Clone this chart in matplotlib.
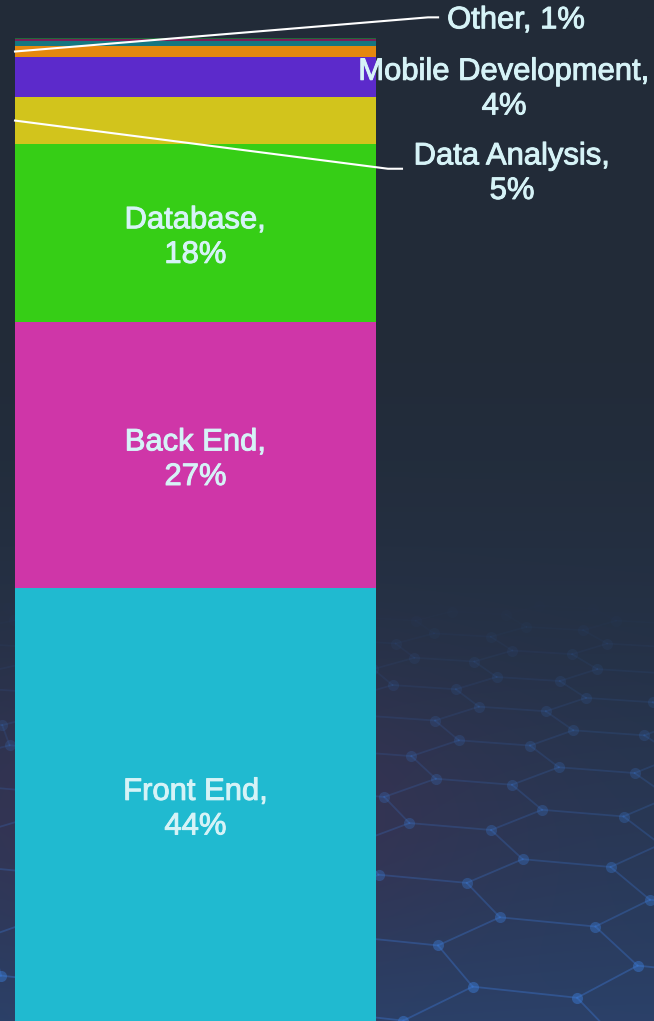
import numpy as np
import matplotlib.pyplot as plt
import matplotlib.patheffects as pe
from matplotlib.colors import to_rgb

# ==== data: share of respondents by skill area (percent), bottom to top
areas = ['Front End', 'Back End', 'Database', 'Data Analysis',
         'Mobile Development', 'Other', 'DevOps', 'Testing', 'Security']
shares = [44.0, 27.1, 18.1, 4.8, 4.05, 1.15, 0.45, 0.22, 0.13]
colors = ['#20BAD0', '#CF36A8', '#36CE16', '#D2C41C',
          '#5C2ACB', '#E5880E', '#167680', '#7A1F5A', '#1F6B3A']

# labels drawn inside the bar vs. pulled out to the right
inside = ['Front End', 'Back End', 'Database']
outside = {  # name -> (text x in axes fraction, text y, leader y, leader kink x, leader end x)
    'Data Analysis': (1.377, 86.2, 86.7, 1.033, 1.072),
    'Mobile Development': (1.355, 94.8, None, None, None),
    'Other': (1.197, 101.8, 102.1, 1.144, 1.172),
}

W, H = 654, 1021
TXT = '#D6F3F7'
FS = 22.3
plt.rcParams['font.family'] = ['Liberation Sans', 'DejaVu Sans']
heavier = [pe.withStroke(linewidth=0.7, foreground=TXT)]

fig = plt.figure(figsize=(W / 100, H / 100), dpi=100)

# ==== background: dark navy gradient with a faint hex network at the bottom
bg = fig.add_axes([0, 0, 1, 1], zorder=0)
yy, xx = np.mgrid[0:H, 0:W]
t = np.clip((yy - 300) / (H - 300), 0, 1) ** 1.6
top = np.array(to_rgb('#222B38'))
bot = np.array(to_rgb('#2B4169'))
img = top[None, None, :] * (1 - t[..., None]) + bot[None, None, :] * t[..., None]
purple = np.array(to_rgb('#3E3152'))
blob = np.exp(-(((xx - 200) / 280.0) ** 2 + ((yy - 810) / 140.0) ** 2))
img = img * (1 - 0.8 * blob[..., None]) + purple * 0.8 * blob[..., None]
bg.imshow(img, extent=(0, W, H, 0), aspect='auto', interpolation='bilinear')

# hexagon lattice laid on a tilted ground plane, seen in perspective
F, CAM_H, Y0 = 1810.0, 1.36, 200.0
def project(u, w):
    ang = np.deg2rad(-14)
    ur = u * np.cos(ang) - (w - 4) * np.sin(ang)
    wr = u * np.sin(ang) + (w - 4) * np.cos(ang) + 4
    return 330 + F * ur / wr, Y0 + F * CAM_H / wr, wr

edges = set()
s = 0.18
for i in range(-16, 16):
    for j in range(0, 28):
        cu = i * 1.5 * s
        cw = 1.5 + j * np.sqrt(3) * s + (i % 2) * np.sqrt(3) / 2 * s
        vs = [(round(cu + s * np.cos(np.pi / 3 * k), 4),
               round(cw + s * np.sin(np.pi / 3 * k), 4)) for k in range(6)]
        for k in range(6):
            a, b = vs[k], vs[(k + 1) % 6]
            edges.add((min(a, b), max(a, b)))

def fade(y):
    return min(1.0, max(0.0, (y - 600) / 380))

nodes = set()
for a, b in edges:
    x1, y1, d1 = project(*a)
    x2, y2, d2 = project(*b)
    if min(d1, d2) < 1.5:
        continue
    ym = (y1 + y2) / 2
    if ym < 600 or ym > H + 80 or max(x1, x2) < -80 or min(x1, x2) > W + 80:
        continue
    bg.plot([x1, x2], [y1, y2], color='#3A6FC4', lw=1.3, alpha=fade(ym) * 0.45)
    nodes.add((round(x1, 1), round(y1, 1)))
    nodes.add((round(x2, 1), round(y2, 1)))
for x, y in nodes:
    if 600 < y < H + 20:
        bg.plot(x, y, 'o', ms=8, color='#3A78D0', alpha=fade(y) * 0.5, mec='none')
bg.set_xlim(0, W)
bg.set_ylim(H, 0)
bg.axis('off')

# ==== stacked bar
ax = fig.add_axes([15 / W, 0, (376 - 15) / W, (H - 38) / H], zorder=1)
ax.patch.set_alpha(0)
bottoms = np.concatenate([[0], np.cumsum(shares)[:-1]])
ax.bar(0, shares, bottom=bottoms, width=1.0, color=colors, linewidth=0)
ax.set_xlim(-0.5, 0.5)
ax.set_ylim(0, sum(shares))
ax.axis('off')

for name, val, b in zip(areas, shares, bottoms):
    mid = b + val / 2
    if name in inside:
        ax.text(0, mid - 0.45, f'{name},\n{round(val)}%', ha='center', va='center',
                color=TXT, fontsize=FS, linespacing=1.2, path_effects=heavier)
    elif name in outside:
        tx, ty, ly, kx, ex = outside[name]
        one_line = name == 'Other'
        label = f'{name}, {round(val)}%' if one_line else f'{name},\n{round(val)}%'
        ax.text(tx, ty, label, transform=ax.get_yaxis_transform(),
                ha='left' if one_line else 'center', va='center', color=TXT,
                fontsize=FS, linespacing=1.2, clip_on=False, path_effects=heavier)
        if kx is not None:
            ax.plot([0, kx, ex], [mid, ly, ly], transform=ax.get_yaxis_transform(),
                    color='white', lw=1.5, clip_on=False)

fig.savefig('out.png', dpi=100, facecolor='#222B38')
